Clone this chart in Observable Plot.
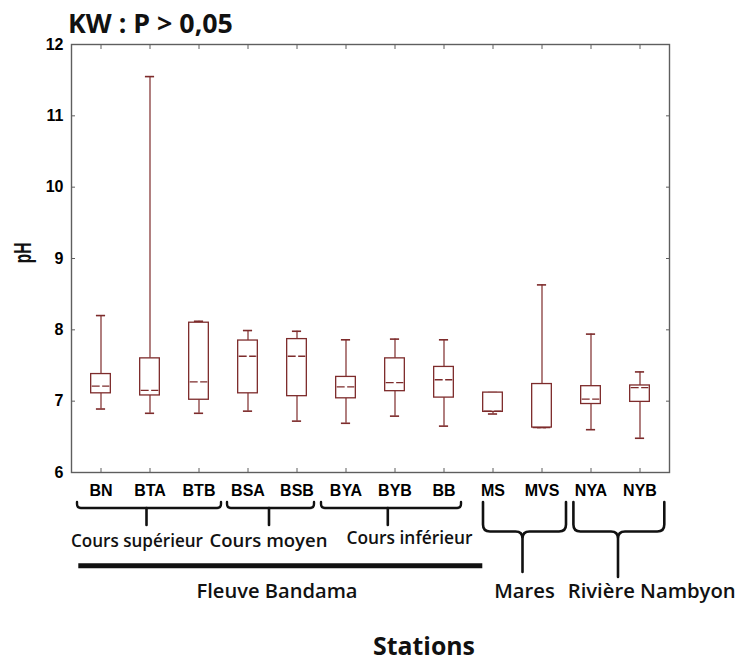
<!DOCTYPE html>
<html>
<head>
<meta charset="utf-8">
<script src="https://cdn.jsdelivr.net/npm/d3@7"></script>
<script src="https://cdn.jsdelivr.net/npm/@observablehq/plot@0.6"></script>
<style>
  html, body { margin: 0; padding: 0; background: #fff; }
  #chart svg { display: block; overflow: visible; }
</style>
</head>
<body>
<div id="chart"></div>
<script>
// pH per station: whisker ends, quartiles and median
const stations    = ["BN", "BTA", "BTB", "BSA", "BSB", "BYA", "BYB", "BB", "MS", "MVS", "NYA", "NYB"];
const whiskerLow  = [6.89, 6.83, 6.83, 6.86, 6.72, 6.69, 6.79, 6.65, 6.82, 6.63, 6.60, 6.48];
const quartile1   = [7.11, 7.08, 7.02, 7.11, 7.07, 7.04, 7.14, 7.05, 6.85, 6.63, 6.96, 6.99];
const medianPH    = [7.21, 7.15, 7.27, 7.63, 7.63, 7.20, 7.26, 7.30, 6.86, 6.63, 7.03, 7.19];
const quartile3   = [7.38, 7.60, 8.10, 7.85, 7.87, 7.34, 7.60, 7.48, 7.12, 7.24, 7.21, 7.22];
const whiskerHigh = [8.20, 11.55, 8.12, 7.99, 7.98, 7.86, 7.87, 7.86, 7.12, 8.63, 7.94, 7.41];
const yTicks      = [6, 7, 8, 9, 10, 11, 12];

// Station groupings shown under the axis
const reachLabels = ["Cours supérieur", "Cours moyen", "Cours inférieur"];
const reachFirst  = ["BN", "BSA", "BYA"];
const reachLast   = ["BTB", "BSB", "BB"];
const basinLabels = ["Fleuve Bandama", "Mares", "Rivière Nambyon"];
const basinFirst  = ["BN", "MS", "NYA"];
const basinLast   = ["BB", "MVS", "NYB"];

const titleText = "KW : P > 0,05";
const yLabel = "pH";
const xLabel = "Stations";

// ---- layout ----
const W = 742, H = 662;
const mL = 71, mR = 73, mT = 44, mB = 190;
const bw = (W - mL - mR) / stations.length;
const boxInset = (bw - 20.5) / 2;
const capInset = (bw - 10) / 2;
const boxColor = "#7d2b2b";
const axisColor = "#5e5e5e";
const ink = "#111";

const table = stations.map((s, i) => ({
  station: s, lo: whiskerLow[i], q1: quartile1[i], med: medianPH[i], q3: quartile3[i], hi: whiskerHigh[i]
}));

const axisFont = {fontSize: 16, fontWeight: "bold", fill: "#000", stroke: axisColor};

const chart = Plot.plot({
  width: W, height: H,
  marginLeft: mL, marginRight: mR, marginTop: mT, marginBottom: mB,
  style: {fontFamily: "'Liberation Sans', Arial, sans-serif", background: "white", overflow: "visible"},
  x: {type: "band", domain: stations, padding: 0},
  y: {domain: [6, 12]},
  marks: [
    Plot.ruleX(table, {x: "station", y1: "lo", y2: "q1", stroke: boxColor, strokeWidth: 1.2}),
    Plot.ruleX(table, {x: "station", y1: "q3", y2: "hi", stroke: boxColor, strokeWidth: 1.2}),
    Plot.tickY(table, {x: "station", y: "lo", insetLeft: capInset, insetRight: capInset, stroke: boxColor, strokeWidth: 1.6}),
    Plot.tickY(table, {x: "station", y: "hi", insetLeft: capInset, insetRight: capInset, stroke: boxColor, strokeWidth: 1.6}),
    Plot.barY(table, {x: "station", y1: "q1", y2: "q3", fill: "white", stroke: boxColor, strokeWidth: 1.3,
                      insetLeft: boxInset, insetRight: boxInset}),
    Plot.tickY(table, {x: "station", y: "med", insetLeft: boxInset + 1, insetRight: boxInset + 1,
                       stroke: boxColor, strokeWidth: 1.3, strokeDasharray: "8,2.5"}),
    Plot.frame({stroke: axisColor, strokeWidth: 1.4}),
    Plot.axisY(yTicks, {anchor: "left", tickSize: -4, tickPadding: 12, tickFormat: d3.format("d"), label: null, ...axisFont}),
    Plot.axisY(yTicks, {anchor: "right", tickSize: -4, tickFormat: () => "", label: null, stroke: axisColor}),
    Plot.axisX({anchor: "bottom", tickSize: -4, tickPadding: 16, label: null, ...axisFont}),
    Plot.axisX({anchor: "top", tickSize: -4, tickFormat: () => "", label: null, stroke: axisColor})
  ]
});

document.getElementById("chart").append(chart);

// ---- titles and grouping braces ----
const svg = d3.select(chart);
const xs = chart.scale("x");
const left = s => xs.apply(s);
const right = s => xs.apply(s) + xs.bandwidth;
const labelFont = "'Open Sans', 'Noto Sans', sans-serif";

// scale a text's font size so that it spans the given width
function fit(sel, width) {
  const size = +sel.attr("font-size");
  const len = sel.node().getComputedTextLength();
  if (len > 0) sel.attr("font-size", (size * width / len).toFixed(2));
  return sel;
}

function label(text, x, y, anchor, weight, size, width) {
  const t = svg.append("text")
    .attr("x", x).attr("y", y).attr("text-anchor", anchor)
    .attr("font-family", labelFont).attr("font-weight", weight).attr("font-size", size)
    .attr("fill", ink).text(text);
  return fit(t, width);
}

label(titleText, 68, 33, "start", 700, 26, 165);
label(xLabel, 424, 655, "middle", 700, 25, 102);

svg.append("text")
  .attr("transform", "translate(31,253) rotate(-90) scale(1,1.6)")
  .attr("text-anchor", "middle")
  .attr("font-family", "'Liberation Sans', Arial, sans-serif").attr("font-weight", 700).attr("font-size", 15.5)
  .attr("fill", ink).text(yLabel);

// brace geometry (pixel tweaks relative to the spanned bands)
const reachLayout = [
  {inL: 1, inR: 2, stem: -3, dx: -12.5, width: 132, base: 547},
  {inL: 4, inR: 7, stem: -3, dx: -3.5, width: 118, base: 547},
  {inL: 0, inR: 7, stem: -6.7, dx: 15, width: 126, base: 544}
];
const basinLayout = [
  {inL: 2.3, inR: -14.3, dx: 5, width: 161},
  {inL: 15, inR: 0, stem: 5.5, dx: 7.5, width: 60.6},
  {inL: 7.4, inR: -0.3, stem: 3, dx: 36.7, width: 168}
];

const g = svg.append("g").attr("fill", "none").attr("stroke", ink).attr("stroke-linecap", "round");

reachLabels.forEach((text, i) => {
  const L = reachLayout[i];
  const x0 = left(reachFirst[i]) + L.inL, x1 = right(reachLast[i]) - L.inR;
  const xm = (left(reachFirst[i]) + right(reachLast[i])) / 2;
  const yT = 502, yH = 508, yS = 525, r = 4;
  g.append("path").attr("stroke-width", 2.4).attr("d",
    `M${x0},${yT} L${x0},${yH - r} Q${x0},${yH} ${x0 + r},${yH} L${x1 - r},${yH} Q${x1},${yH} ${x1},${yH - r} L${x1},${yT}`);
  g.append("path").attr("stroke-width", 2.6).attr("d", `M${xm + L.stem},${yH} L${xm + L.stem},${yS}`);
  label(text, xm + L.dx, L.base, "middle", 600, 17, L.width);
});

basinLabels.forEach((text, i) => {
  const L = basinLayout[i];
  const x0 = left(basinFirst[i]) + L.inL, x1 = right(basinLast[i]) - L.inR;
  const xm = (left(basinFirst[i]) + right(basinLast[i])) / 2;
  if (i === 0) {
    g.append("path").attr("stroke-width", 5).attr("stroke-linecap", "butt").attr("d", `M${x0},565.7 L${x1},565.7`);
  } else {
    const yT = 502, yH = 531.5, yS = i === 1 ? 572 : 577, r = 7, xs0 = xm + L.stem;
    g.append("path").attr("stroke-width", 2.6).attr("d",
      `M${x0},${yT} L${x0},${yH - r} Q${x0},${yH} ${x0 + r},${yH} L${xs0 - r},${yH} Q${xs0},${yH} ${xs0},${yH + r} L${xs0},${yS}` +
      ` M${xs0},${yH + r} Q${xs0},${yH} ${xs0 + r},${yH} L${x1 - r},${yH} Q${x1},${yH} ${x1},${yH - r} L${x1},${yT}`);
  }
  label(text, xm + L.dx, 598, "middle", 600, 20, L.width);
});
</script>
</body>
</html>
